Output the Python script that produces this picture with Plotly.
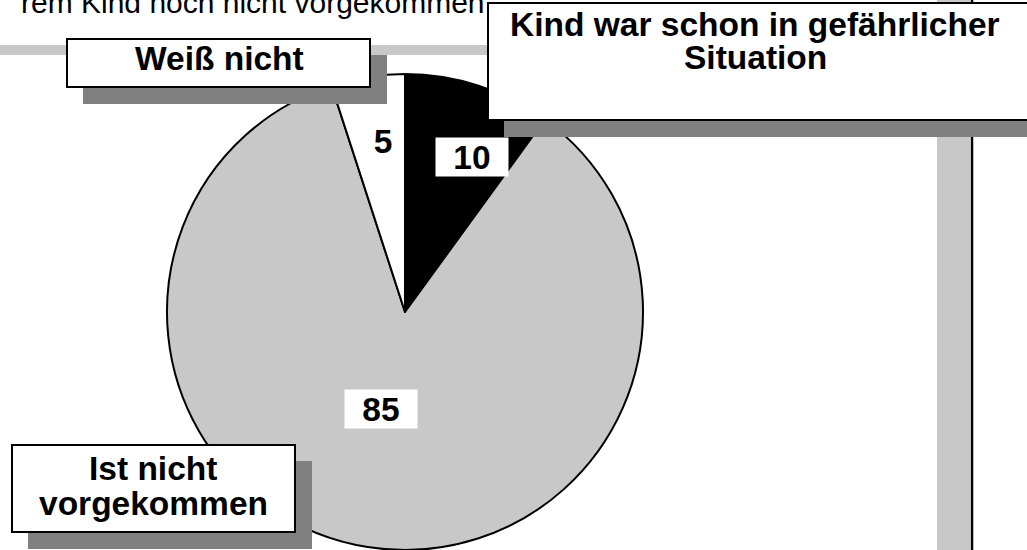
import plotly.graph_objects as go

# ---- data ----
categories = ["Kind war schon in gefährlicher Situation", "Ist nicht vorgekommen", "Weiß nicht"]
values = [10, 85, 5]
slice_colors = ["#000000", "#c8c8c8", "#ffffff"]
top_text = "rem Kind noch nicht vorgekommen"

W, H = 1027, 550
FONT = "Liberation Sans, Arial, sans-serif"
FS = 33.5


def px(x):
    return x / W


def py(y):
    return 1 - y / H


fig = go.Figure()
fig.add_trace(go.Pie(
    labels=categories,
    values=values,
    sort=False,
    direction="clockwise",
    rotation=0,
    marker=dict(colors=slice_colors, line=dict(color="#000000", width=2)),
    textinfo="none",
    hoverinfo="label+value",
    showlegend=False,
    domain=dict(x=[px(167), px(643)], y=[0, py(74)]),
))

shapes = []


def rect(x0, y0, x1, y1, fill, line_color=None, lw=0):
    shapes.append(dict(
        type="rect", xref="paper", yref="paper",
        x0=px(x0), x1=px(x1), y0=py(y1), y1=py(y0),
        fillcolor=fill,
        line=dict(color=line_color or fill, width=lw),
        layer="above",
    ))


# background frame remnants
rect(0, 45, 488, 55, "#c8c8c8")
rect(937, 0, 970, 560, "#c8c8c8")
shapes.append(dict(type="line", xref="paper", yref="paper",
                   x0=px(972), x1=px(972), y0=py(560), y1=py(-5),
                   line=dict(color="#000000", width=2.5), layer="above"))

# label boxes with shadows
boxes = {
    "weiss": (67, 39, 370, 87),
    "kind": (488, 3, 1040, 120),
    "ist": (12, 445, 295, 532),
}
for key, (x0, y0, x1, y1) in boxes.items():
    rect(x0 + 16, y0 + 16, x1 + 17, y1 + 17, "#808080")
    rect(x0, y0, x1, y1, "#ffffff", "#000000", 2)

fig.update_layout(shapes=shapes)

ann = []


def text(x, y, t, bold=True, xanchor="center", bg=None, w=None, h=None, size=FS):
    d = dict(xref="paper", yref="paper", x=px(x), y=py(y), text=t,
             showarrow=False, xanchor=xanchor, yanchor="middle",
             font=dict(family=FONT, size=size, color="#000000",
                       weight="bold" if bold else "normal"))
    if bg:
        d.update(bgcolor=bg)
    if w:
        d.update(width=w)
    if h:
        d.update(height=h)
    ann.append(d)


# top cut-off text
text(19, 2, top_text, bold=False, xanchor="left", size=30)

# category labels
text(219, 58, categories[2])
text(755, 24, "Kind war schon in gefährlicher")
text(755, 57, "Situation")
text(153, 468, "Ist nicht")
text(153, 503, "vorgekommen")

# value labels (white label boxes; the one on the white slice needs none)
value_pos = [(472, 157), (381, 409), (383, 141)]
value_bg = ["#ffffff", "#ffffff", None]
for v, (x, y), bg in zip(values, value_pos, value_bg):
    text(x, y, str(v), bg=bg, w=70, h=36)

fig.update_layout(
    annotations=ann,
    width=W, height=H,
    margin=dict(l=0, r=0, t=0, b=0),
    paper_bgcolor="#ffffff",
    plot_bgcolor="#ffffff",
)

fig.write_html("out.html", config={"displayModeBar": False},
               post_script="document.body.style.margin='0';")
